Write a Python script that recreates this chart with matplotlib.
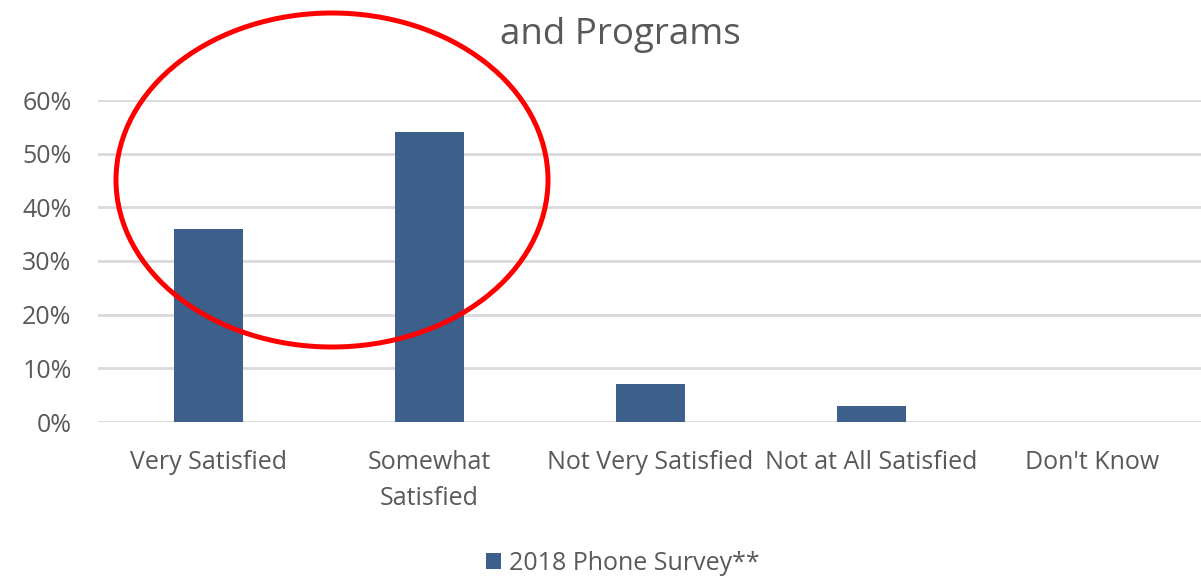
import numpy as np
import matplotlib
matplotlib.use("Agg")
import matplotlib.pyplot as plt
from matplotlib.patches import Ellipse

# data
categories = ["Very Satisfied", "Somewhat\nSatisfied", "Not Very Satisfied",
              "Not at All Satisfied", "Don't Know"]
values = [36, 54, 7, 3, 0]
series_name = "2018 Phone Survey**"
y_ticks = [0, 10, 20, 30, 40, 50, 60]

plt.rcParams['font.family'] = ['Open Sans', 'DejaVu Sans']
text_color = '#595959'
bar_color = '#3C5F8B'
grid_color = '#D9D9D9'

W, H = 1201, 577
fig = plt.figure(figsize=(W / 100, H / 100), dpi=100)
# plot area in pixels: left 98, right 1203, bottom y=422, top y=100 (60%)
ax = fig.add_axes([98 / W, 1 - 422 / H, 1105 / W, 322 / H])

x = np.arange(len(categories))
ax.bar(x, values, width=0.31, color=bar_color, zorder=3, label=series_name)

ax.set_xlim(-0.5, len(categories) - 0.5)
ax.set_ylim(0, 60)
ax.set_yticks(y_ticks)
ax.set_yticklabels([f"{v}%" for v in y_ticks])
ax.set_xticks(x)
ax.set_xticklabels(categories, linespacing=1.6)
ax.tick_params(axis='both', length=0, labelsize=18, colors=text_color)
ax.tick_params(axis='x', pad=20)
ax.tick_params(axis='y', pad=19)
for lab in ax.get_yticklabels():
    lab.set_verticalalignment('center_baseline')

ax.grid(axis='y', color=grid_color, linewidth=2, zorder=0)
ax.set_axisbelow(True)
for side in ['top', 'right', 'left', 'bottom']:
    ax.spines[side].set_visible(False)

# title (first line is cut off in the reference)
fig.text(620 / W, 1 - 35 / H, "and Programs", ha='center', va='center',
         fontsize=26.5, color=text_color)

# legend
handles, labels = ax.get_legend_handles_labels()
fig.legend(handles, labels, loc='center', bbox_to_anchor=(623 / W, 1 - 563 / H),
           frameon=False, fontsize=18, labelcolor=text_color,
           handlelength=0.6, handleheight=0.6, handletextpad=0.3)

# red circle annotation drawn over the chart
ell = Ellipse((332, H - 180), width=432, height=334, fill=False,
              edgecolor='#FF0000', linewidth=3.6, transform=None, zorder=10)
fig.add_artist(ell)

fig.savefig("out.png", dpi=100)
